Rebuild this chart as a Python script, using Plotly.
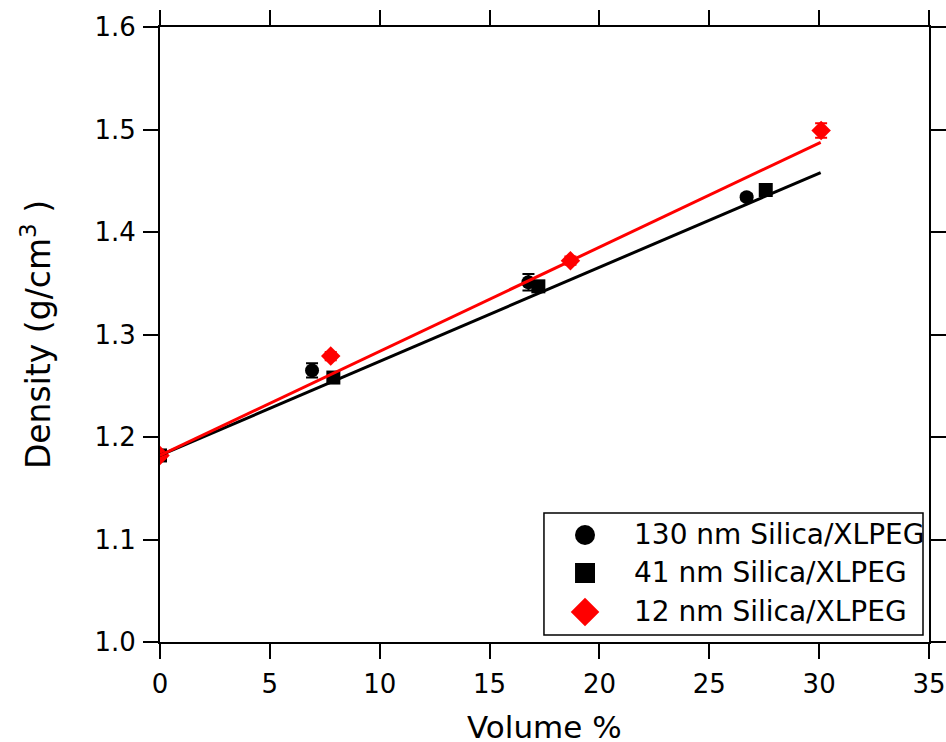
import plotly.graph_objects as go

# Density vs. silica volume fraction for XLPEG nanocomposites
x_130 = [0.0, 6.92, 16.77, 26.70]
y_130 = [1.182, 1.265, 1.351, 1.434]
e_130 = [0.003, 0.007, 0.008, 0.003]

x_41 = [0.0, 7.89, 17.22, 27.57]
y_41 = [1.182, 1.258, 1.347, 1.441]
e_41 = [0.002, 0.002, 0.003, 0.003]

x_12 = [0.0, 7.77, 18.68, 30.09]
y_12 = [1.182, 1.279, 1.372, 1.499]
e_12 = [0.003, 0.004, 0.004, 0.007]

# linear fits (endpoints)
fit_black_x = [0.0, 30.07]
fit_black_y = [1.182, 1.458]
fit_red_x = [0.0, 30.07]
fit_red_y = [1.182, 1.4875]

names = ["130 nm Silica/XLPEG", "41 nm Silica/XLPEG", "12 nm Silica/XLPEG"]
symbols = ["circle", "square", "diamond"]
colors = ["black", "black", "#ff0000"]
legend_sizes = [20, 20, 22]

FONT = "DejaVu Sans"

fig = go.Figure()


def err(vals, color):
    return dict(type="data", array=vals, visible=True, color=color,
                thickness=2, width=6)


fig.add_trace(go.Scatter(x=x_130, y=y_130, mode="markers", name=names[0],
                         marker=dict(symbol="circle", size=14, color="black"),
                         error_y=err(e_130, "black"), showlegend=False))
fig.add_trace(go.Scatter(x=x_41, y=y_41, mode="markers", name=names[1],
                         marker=dict(symbol="square", size=14, color="black"),
                         error_y=err(e_41, "black"), showlegend=False))
fig.add_trace(go.Scatter(x=x_12, y=y_12, mode="markers", name=names[2],
                         marker=dict(symbol="diamond", size=15, color="#ff0000"),
                         error_y=err(e_12, "#ff0000"), showlegend=False))
fig.add_trace(go.Scatter(x=fit_black_x, y=fit_black_y, mode="lines",
                         line=dict(color="black", width=3), showlegend=False))
fig.add_trace(go.Scatter(x=fit_red_x, y=fit_red_y, mode="lines",
                         line=dict(color="#ff0000", width=3), showlegend=False))

# Legend box drawn on an overlay axis pair spanning the plot area (0..1)
leg_x0, leg_x1, leg_y0, leg_y1 = 0.4993, 0.9922, 0.0114, 0.2098
leg_marker_x = 0.5527
leg_text_x = 0.6138
leg_rows = [0.174, 0.1122, 0.0488]

fig.add_shape(type="rect", xref="paper", yref="paper",
              x0=leg_x0, x1=leg_x1, y0=leg_y0, y1=leg_y1,
              line=dict(color="black", width=1.5), fillcolor="white", layer="below")
for name, sym, col, sz, ry in zip(names, symbols, colors, legend_sizes, leg_rows):
    fig.add_trace(go.Scatter(x=[leg_marker_x], y=[ry], xaxis="x2", yaxis="y2",
                             mode="markers", showlegend=False, hoverinfo="skip",
                             marker=dict(symbol=sym, size=sz, color=col)))
    fig.add_annotation(x=leg_text_x, y=ry, xref="paper", yref="paper",
                       text=name, showarrow=False, xanchor="left", yanchor="middle",
                       font=dict(family=FONT, size=28, color="black"))

# x-axis title placed as an annotation below the tick labels
fig.add_annotation(x=0.5, y=-0.139, xref="paper", yref="paper",
                   text="Volume %", showarrow=False, xanchor="center", yanchor="middle",
                   font=dict(family=FONT, size=31, color="black"))

axis_common = dict(
    showline=True, linecolor="black", linewidth=2, mirror="allticks",
    ticks="outside", ticklen=15, tickwidth=2, tickcolor="black",
    showgrid=False, zeroline=False, automargin=False,
    tickfont=dict(family=FONT, size=26, color="black"),
)

fig.update_xaxes(range=[0, 35], tickvals=[0, 5, 10, 15, 20, 25, 30, 35],
                 ticklabelstandoff=3,
                 **axis_common)
fig.update_yaxes(range=[1.0, 1.6], tickvals=[1.0, 1.1, 1.2, 1.3, 1.4, 1.5, 1.6],
                 ticktext=["1.0", "1.1", "1.2", "1.3", "1.4", "1.5", "1.6"],
                 ticklabelstandoff=2,
                 title=dict(text="Density (g/cm<sup>3</sup> )",
                            font=dict(family=FONT, size=33, color="black"),
                            standoff=34),
                 **axis_common)

fig.update_layout(
    width=946, height=742,
    margin=dict(l=160, r=17, t=27, b=100),
    paper_bgcolor="white", plot_bgcolor="white",
    font=dict(family=FONT, color="black"),
    showlegend=False,
    xaxis2=dict(domain=[0, 1], range=[0, 1], overlaying="x", anchor="y2",
                visible=False, fixedrange=True),
    yaxis2=dict(domain=[0, 1], range=[0, 1], overlaying="y", anchor="x2",
                visible=False, fixedrange=True),
)

fig.write_html("out.html")
